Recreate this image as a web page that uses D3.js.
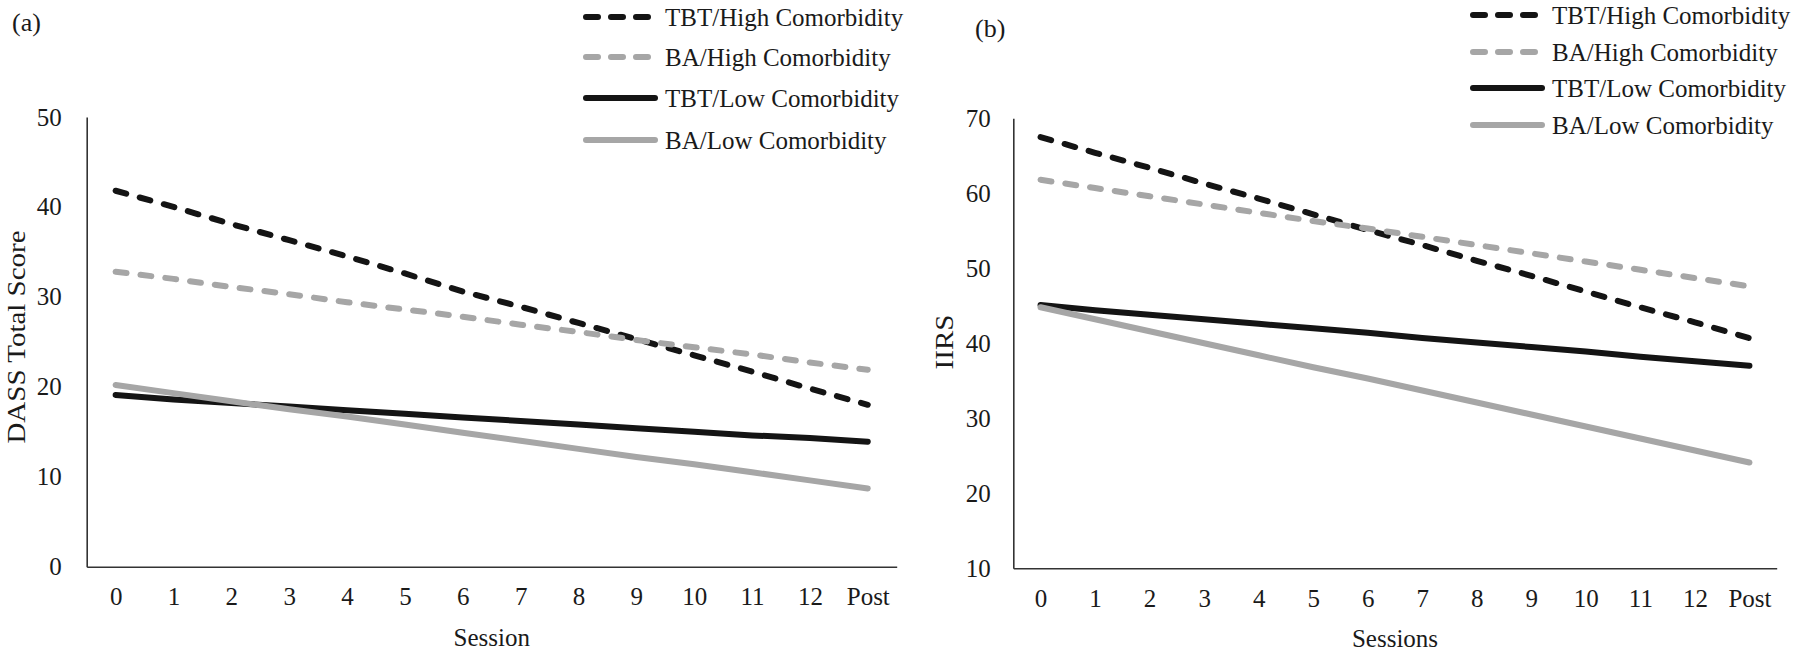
<!DOCTYPE html>
<html>
<head>
<meta charset="utf-8">
<script src="https://cdn.jsdelivr.net/npm/d3@7"></script>
<style>
  html, body { margin: 0; padding: 0; background: #fff; }
  svg text { font-family: "Liberation Serif", "Times New Roman", serif; fill: #1a1a1a; }
</style>
</head>
<body>
<svg id="chart" width="1800" height="652"></svg>
<script>
// ---------- data ----------
const sessions = ["0","1","2","3","4","5","6","7","8","9","10","11","12","Post"];
const seriesNames = ["TBT/High Comorbidity","BA/High Comorbidity","TBT/Low Comorbidity","BA/Low Comorbidity"];

// Panel (a): DASS Total Score
const dassTbtHigh = [41.8, 40.0, 38.1, 36.3, 34.5, 32.6, 30.6, 28.9, 27.1, 25.3, 23.5, 21.7, 19.8, 18.0];
const dassBaHigh  = [32.8, 32.0, 31.1, 30.3, 29.4, 28.6, 27.8, 26.9, 26.1, 25.2, 24.4, 23.6, 22.7, 21.9];
const dassTbtLow  = [19.1, 18.6, 18.2, 17.8, 17.4, 17.0, 16.6, 16.2, 15.8, 15.4, 15.0, 14.6, 14.3, 13.9];
const dassBaLow   = [20.2, 19.3, 18.4, 17.5, 16.7, 15.8, 14.9, 14.0, 13.1, 12.2, 11.4, 10.5, 9.6, 8.7];
const dassTicks   = [0, 10, 20, 30, 40, 50];

// Panel (b): IIRS
const iirsTbtHigh = [67.5, 65.4, 63.4, 61.3, 59.3, 57.2, 55.1, 53.1, 51.0, 49.0, 46.9, 44.8, 42.8, 40.7];
const iirsBaHigh  = [61.8, 60.7, 59.6, 58.5, 57.4, 56.3, 55.3, 54.2, 53.1, 52.0, 50.9, 49.8, 48.7, 47.6];
const iirsTbtLow  = [45.1, 44.4, 43.8, 43.2, 42.6, 42.0, 41.4, 40.7, 40.1, 39.5, 38.9, 38.2, 37.6, 37.0];
const iirsBaLow   = [44.8, 43.2, 41.6, 40.0, 38.4, 36.8, 35.3, 33.7, 32.1, 30.5, 28.9, 27.3, 25.7, 24.1];
const iirsTicks   = [10, 20, 30, 40, 50, 60, 70];

// ---------- styles ----------
const styles = [
  { color: "#141414", dash: true },
  { color: "#a6a6a6", dash: true },
  { color: "#141414", dash: false },
  { color: "#a6a6a6", dash: false }
];
const LINE_W = 6;

const svg = d3.select("#chart");

function panel(cfg) {
  const g = svg.append("g");
  const x = d3.scalePoint().domain(sessions).range([cfg.left, cfg.right]).padding(0.5);
  const y = d3.scaleLinear().domain(cfg.yDomain).range([cfg.bottom, cfg.top]);

  // x axis
  const xa = g.append("g")
    .attr("transform", `translate(0,${cfg.bottom})`)
    .call(d3.axisBottom(x).tickSize(0).tickPadding(21));
  xa.select(".domain").attr("stroke", "#333").attr("stroke-width", 1.6);
  xa.selectAll("text").attr("font-size", 25).attr("font-family", "Liberation Serif").attr("fill", "#1a1a1a");

  // y axis
  const ya = g.append("g")
    .attr("transform", `translate(${cfg.left},0)`)
    .call(d3.axisLeft(y).tickValues(cfg.ticks).tickSize(0).tickPadding(cfg.yPad).tickFormat(d3.format("d")));
  ya.select(".domain").attr("stroke", "#333").attr("stroke-width", 1.6);
  ya.selectAll("text").attr("font-size", 25).attr("font-family", "Liberation Serif").attr("fill", "#1a1a1a");

  // axis titles
  g.append("text")
    .attr("x", (cfg.left + cfg.right) / 2).attr("y", cfg.bottom + 79)
    .attr("text-anchor", "middle").attr("font-size", 25)
    .text(cfg.xTitle);
  g.append("text")
    .attr("transform", `translate(${cfg.yTitleX},${cfg.yTitleY}) rotate(-90) scale(1.16,1)`)
    .attr("text-anchor", "middle").attr("font-size", 25)
    .text(cfg.yTitle);

  // panel tag
  g.append("text").attr("x", cfg.tagX).attr("y", cfg.tagY).attr("font-size", 26).text(cfg.tag);

  // lines
  const line = d3.line().x((d, i) => x(sessions[i])).y(d => y(d));
  cfg.series.forEach((vals, k) => {
    const st = styles[k];
    g.append("path")
      .datum(vals)
      .attr("d", line)
      .attr("fill", "none")
      .attr("stroke", st.color)
      .attr("stroke-width", LINE_W)
      .attr("stroke-linecap", "round")
      .attr("stroke-linejoin", "round")
      .attr("stroke-dasharray", st.dash ? "11 14" : null);
  });

  // legend
  const lg = g.append("g");
  seriesNames.forEach((name, k) => {
    const st = styles[k];
    const ry = cfg.legRows[k];
    lg.append("line")
      .attr("x1", cfg.legX + 3).attr("x2", st.dash ? cfg.legX + 65 : cfg.legX + 72)
      .attr("y1", ry).attr("y2", ry)
      .attr("stroke", st.color).attr("stroke-width", LINE_W)
      .attr("stroke-linecap", "round")
      .attr("stroke-dasharray", st.dash ? "12 13" : null);
    lg.append("text")
      .attr("x", cfg.legX + 82).attr("y", ry + 8.5)
      .attr("font-size", 25)
      .text(name);
  });
}

panel({
  left: 86.7, right: 896.7, top: 117, bottom: 566.7,
  yDomain: [0, 50], ticks: dassTicks, yPad: 25,
  xTitle: "Session", yTitle: "DASS Total Score", yTitleX: 25, yTitleY: 337,
  tag: "(a)", tagX: 12, tagY: 31,
  legX: 583, legRows: [17, 57, 98, 140],
  series: [dassTbtHigh, dassBaHigh, dassTbtLow, dassBaLow]
});

panel({
  left: 1013.3, right: 1776.7, top: 118.3, bottom: 568.3,
  yDomain: [10, 70], ticks: iirsTicks, yPad: 22.6,
  xTitle: "Sessions", yTitle: "IIRS", yTitleX: 953, yTitleY: 342,
  tag: "(b)", tagX: 975, tagY: 37,
  legX: 1470, legRows: [15, 52, 88, 125],
  series: [iirsTbtHigh, iirsBaHigh, iirsTbtLow, iirsBaLow]
});
</script>
</body>
</html>
